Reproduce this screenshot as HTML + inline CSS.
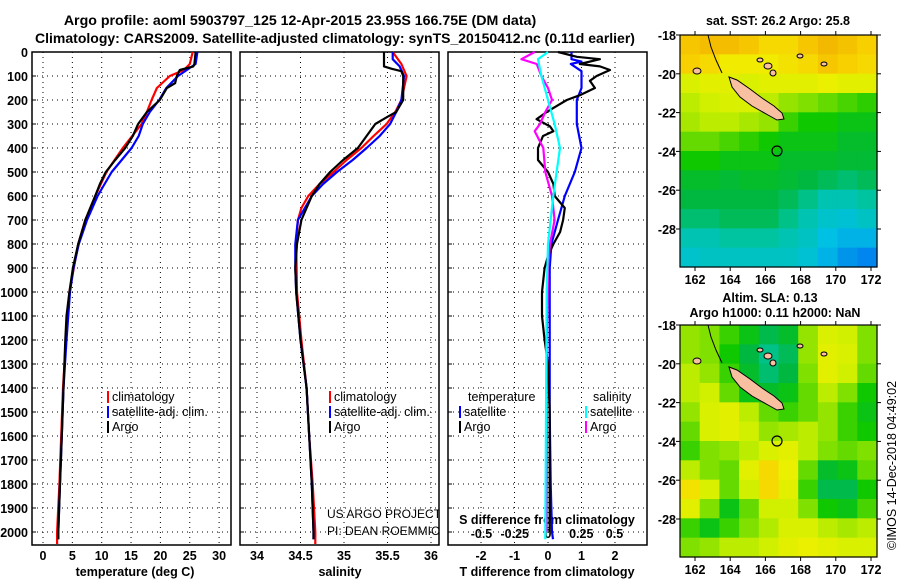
<!DOCTYPE html>
<html><head><meta charset="utf-8">
<style>
html,body{margin:0;padding:0;background:#fff;}
svg{display:block;font-family:"Liberation Sans",sans-serif;}
.b{font-weight:bold;}
</style></head>
<body>
<svg id="fig" width="900" height="580" viewBox="0 0 900 580" xmlns="http://www.w3.org/2000/svg">
<defs><clipPath id="p2clip"><rect x="240" y="52" width="199" height="493"/></clipPath></defs>
<text x="300" y="25" text-anchor="middle" font-size="14.2" class="b">Argo profile: aoml 5903797_125 12-Apr-2015 23.95S 166.75E (DM data)</text>
<text x="335" y="43" text-anchor="middle" font-size="14" class="b">Climatology: CARS2009. Satellite-adjusted climatology: synTS_20150412.nc (0.11d earlier)</text>
<text x="778" y="25" text-anchor="middle" font-size="12.5" class="b">sat. SST: 26.2 Argo: 25.8</text>
<text x="770" y="302" text-anchor="middle" font-size="12.5" class="b">Altim. SLA: 0.13</text>
<text x="775" y="317" text-anchor="middle" font-size="12.5" class="b">Argo h1000: 0.11 h2000: NaN</text>
<text transform="translate(896,550) rotate(-90)" font-size="12.5">©IMOS 14-Dec-2018 04:49:02</text>
<text x="135" y="576" text-anchor="middle" font-size="12.5" class="b">temperature (deg C)</text>
<text x="340" y="576" text-anchor="middle" font-size="12.5" class="b">salinity</text>
<text x="547" y="576" text-anchor="middle" font-size="12.5" class="b">T difference from climatology</text>
<text x="547" y="524" text-anchor="middle" font-size="12.5" class="b">S difference from climatology</text>
<g clip-path="url(#p2clip)">
<text x="327" y="518" font-size="12">US ARGO PROJECT</text>
<text x="327" y="535" font-size="12">PI: DEAN ROEMMICH</text>
</g>
</svg>
<script>
// ---- Profile data ----
const tArgoDepth=[0,50,60,75,100,130,150,200,250,300,350,400,450,500,550,600,700,800,900,1000,1100,1200,1400,1600,1800,2000,2030];
const tArgo=[26.0,25.8,25.6,23.3,22.8,22.5,21.1,19.9,17.7,16.2,15.3,14.0,12.3,10.7,9.7,8.9,7.2,6.0,5.1,4.5,4.0,3.8,3.5,3.2,2.9,2.6,2.6];
const tClimDepth=[0,50,75,100,150,200,250,300,400,500,600,700,800,1000,1200,1400,1600,1800,2000,2050];
const tClim=[25.5,25.0,24.0,21.6,19.4,18.5,17.7,16.8,13.6,10.8,8.9,7.2,6.0,4.5,3.9,3.4,3.1,2.8,2.4,2.4];
const tSatDepth=[0,50,75,100,150,200,250,300,350,400,450,500,550,600,700,800,900,1000,1200,1400,1600,1800,2000,2030];
const tSat=[26.3,26.0,24.5,23.0,21.0,19.8,18.2,17.0,16.3,15.1,13.4,11.7,10.5,9.3,7.5,6.1,5.2,4.6,4.0,3.5,3.2,2.9,2.6,2.6];
const sArgoDepth=[0,60,70,80,100,200,250,270,300,350,400,450,500,550,600,700,800,900,1000,1200,1400,1600,1800,2000,2030];
const sArgo=[35.46,35.46,35.55,35.66,35.68,35.68,35.60,35.50,35.36,35.26,35.16,34.99,34.84,34.72,34.63,34.51,34.46,34.44,34.45,34.5,34.57,34.60,34.63,34.65,34.65];
const sClimDepth=[0,50,100,200,250,300,350,400,450,500,550,600,650,700,800,1000,1200,1400,1600,1800,2000,2050];
const sClim=[35.56,35.66,35.72,35.66,35.59,35.49,35.34,35.20,35.03,34.88,34.72,34.59,34.51,34.47,34.45,34.46,34.51,34.57,34.60,34.64,34.67,34.67];
const sSatDepth=[0,30,60,100,200,250,300,350,400,450,500,550,600,700,800,900,1000,1200,1400,1600,1800,2000,2030];
const sSat=[35.56,35.56,35.64,35.69,35.66,35.60,35.53,35.41,35.26,35.10,34.92,34.76,34.63,34.47,34.44,34.44,34.45,34.5,34.57,34.60,34.63,34.65,34.65];
const dtArgoDepth=[0,20,30,50,60,75,100,120,150,180,200,230,250,280,310,330,350,400,450,500,550,600,650,700,750,800,850,900,1000,1100,1200,1300,1500,1700,2000];
const dtArgo=[0.3,0.86,1.55,0.95,1.55,1.85,1.45,1.25,1.4,0.95,0.56,0.2,-0.04,-0.34,0.06,0.16,-0.15,-0.3,-0.3,0,0.16,0.2,0.5,0.45,0.36,0.16,0,-0.1,-0.18,-0.18,-0.1,0,0.05,0.05,0.05];
const dtSatDepth=[0,30,40,50,80,150,200,300,400,500,600,700,800,900,1000,1500,1800,2000,2030];
const dtSat=[0.7,0.7,1.0,0.68,1.0,1.0,0.86,0.86,1.0,0.8,0.5,0.3,0.1,0.05,0.05,0.05,0.08,0.12,0.15];
const dsArgoDepth=[0,30,50,100,150,200,250,300,330,400,500,600,700,800,900,1200,1600,2000];
const dsArgo=[-0.1,-0.2,-0.085,-0.05,0,0.03,-0.02,-0.06,-0.1,-0.035,-0.02,0.03,0.05,0.015,0,-0.01,-0.01,-0.01];
const dsSatDepth=[0,30,100,200,300,400,500,600,800,1000,1500,2000,2030];
const dsSat=[0,-0.075,-0.05,0,0.05,0.09,0.065,0.04,0,-0.01,-0.015,-0.02,-0.02];
const depthTicks=[0,100,200,300,400,500,600,700,800,900,1000,1100,1200,1300,1400,1500,1600,1700,1800,1900,2000];
const tempTicks=[0,5,10,15,20,25,30];
const salTicks=[34,34.5,35,35.5,36];
const dtTicks=[-2,-1,0,1,2];
const dsTicks=[-0.5,-0.25,0,0.25,0.5];
// ---- Map data (0..1 colour index) ----
const sstGrid=[
[.84,.86,.86,.84,.80,.80,.84,.87,.85,.82],
[.82,.80,.76,.76,.76,.78,.80,.84,.82,.80],
[.70,.72,.72,.70,.72,.72,.72,.74,.72,.72],
[.66,.68,.70,.70,.66,.62,.60,.58,.56,.54],
[.64,.66,.66,.64,.62,.55,.52,.52,.50,.50],
[.58,.58,.56,.54,.52,.50,.50,.50,.48,.48],
[.52,.52,.50,.50,.50,.48,.48,.48,.47,.47],
[.48,.48,.47,.48,.48,.47,.46,.44,.42,.44],
[.46,.46,.46,.46,.46,.44,.40,.36,.36,.38],
[.42,.42,.44,.44,.44,.40,.36,.33,.32,.34],
[.36,.36,.38,.38,.38,.36,.34,.30,.28,.28],
[.33,.34,.34,.34,.34,.34,.32,.28,.24,.22]];
const slaGrid=[
[.62,.60,.55,.50,.45,.48,.62,.70,.68,.60],
[.62,.60,.52,.46,.40,.44,.62,.72,.70,.60],
[.66,.62,.55,.48,.42,.46,.60,.72,.68,.58],
[.66,.68,.58,.50,.48,.50,.58,.66,.60,.52],
[.62,.70,.72,.66,.58,.55,.58,.62,.55,.50],
[.58,.70,.72,.68,.62,.64,.66,.62,.55,.52],
[.55,.60,.62,.66,.70,.72,.66,.60,.58,.60],
[.66,.60,.58,.72,.80,.74,.58,.48,.50,.58],
[.78,.70,.58,.68,.80,.72,.55,.45,.45,.52],
[.72,.60,.50,.58,.68,.68,.60,.52,.50,.56],
[.55,.50,.55,.60,.65,.70,.70,.66,.64,.66],
[.60,.62,.66,.66,.68,.72,.74,.72,.70,.70]];
const lonTicks=[162,164,166,168,170,172];
const latTicks=[-18,-20,-22,-24,-26,-28];

const NS='http://www.w3.org/2000/svg';
const svg=document.getElementById('fig');
function mk(tag,attrs,parent){const e=document.createElementNS(NS,tag);for(const k in attrs)e.setAttribute(k,attrs[k]);(parent||svg).appendChild(e);return e;}
const Y0=52,PB=545;
const yD=d=>Math.min(PB,Y0+d*0.24);
const xT=v=>43+v*5.87;
const xS=v=>257+(v-34)*87;
const xDT=v=>548+v*33.5;
const xDS=v=>548+v*133;
const panels=[{x0:32,x1:231,name:'temperature-panel'},{x0:240,x1:439,name:'salinity-panel'},{x0:448,x1:647,name:'difference-panel'}];
const gridX=[tempTicks.map(xT),salTicks.map(xS),dtTicks.map(xDT)];

panels.forEach((p,i)=>{
  const g=mk('g',{});
  
  
  depthTicks.forEach(d=>{
    const l=mk('line',{x1:p.x0,x2:p.x1,y1:yD(d),y2:yD(d),stroke:'#000','stroke-width':1,'stroke-dasharray':'1,4'},g);
    
    
    const tk=mk('line',{x1:p.x0,x2:p.x0+4,y1:yD(d),y2:yD(d),stroke:'#000'},g);
    
    
  });
  gridX[i].forEach(x=>{
    const l=mk('line',{x1:x,x2:x,y1:Y0,y2:PB,stroke:'#000','stroke-width':1,'stroke-dasharray':'1,4'},g);
    
    
  });
  const r=mk('rect',{x:p.x0,y:Y0,width:p.x1-p.x0,height:PB-Y0,fill:'none',stroke:'#000','stroke-width':1.5},g);
  
  
});
depthTicks.forEach(d=>{
  const t=mk('text',{x:28,y:yD(d)+5,'text-anchor':'end','font-size':12.5,'font-weight':'bold'});
  t.textContent=d;
  
  
});
function xlabels(ticks,fx,y,size){ticks.forEach(v=>{
  const t=mk('text',{x:fx(v),y:y,'text-anchor':'middle','font-size':size,'font-weight':'bold'});
  t.textContent=v;
  
  
});}
xlabels(tempTicks,xT,560,12.5);
xlabels(salTicks,xS,560,12.5);
xlabels(dtTicks,xDT,560,12.5);
xlabels(dsTicks,xDS,538,12.5);

function line(depths,vals,fx,color,name){
  const pts=depths.map((d,i)=>fx(vals[i]).toFixed(1)+','+yD(d).toFixed(1)).join(' ');
  const l=mk('polyline',{points:pts,fill:'none',stroke:color,'stroke-width':2.2,'stroke-linejoin':'round'});
  
  
}
line(tClimDepth,tClim,xT,'#f00','temp-climatology-line');
line(tSatDepth,tSat,xT,'#00f','temp-satellite-line');
line(tArgoDepth,tArgo,xT,'#000','temp-argo-line');
line(sClimDepth,sClim,xS,'#f00','sal-climatology-line');
line(sSatDepth,sSat,xS,'#00f','sal-satellite-line');
line(sArgoDepth,sArgo,xS,'#000','sal-argo-line');
line(dtSatDepth,dtSat,xDT,'#00f','tdiff-satellite-line');
line(dtArgoDepth,dtArgo,xDT,'#000','tdiff-argo-line');
line(dsArgoDepth,dsArgo,xDS,'#f0f','sdiff-argo-line');
line(dsSatDepth,dsSat,xDS,'#0ff','sdiff-satellite-line');

function legendItem(x,y,color,label){
  const g=mk('g',{});
  
  
  mk('rect',{x:x,y:y-10,width:2,height:12,fill:color},g);
  const t=mk('text',{x:x+5,y:y,'font-size':12.5},g);
  t.textContent=label;
}
[[107,'#f00','climatology'],[107,'#00f','satellite-adj. clim.'],[107,'#000','Argo']].forEach((e,i)=>legendItem(e[0],401+i*15,e[1],e[2]));
[[329,'#f00','climatology'],[329,'#00f','satellite-adj. clim.'],[329,'#000','Argo']].forEach((e,i)=>legendItem(e[0],401+i*15,e[1],e[2]));
const lt=mk('text',{x:468,y:401,'font-size':12.5});lt.textContent='temperature';


const ls=mk('text',{x:593,y:401,'font-size':12.5});ls.textContent='salinity';


legendItem(459,416,'#00f','satellite');legendItem(459,431,'#000','Argo');
legendItem(585,416,'#0ff','satellite');legendItem(585,431,'#f0f','Argo');

// ---- Maps ----
const stops=[[.2,[0,120,240]],[.3,[0,192,228]],[.38,[0,196,160]],[.46,[0,184,64]],[.52,[16,200,0]],[.6,[128,224,0]],[.68,[208,240,0]],[.75,[240,240,0]],[.82,[248,208,0]],[.9,[240,170,0]]];
function cmap(v){
  if(v<=stops[0][0])return 'rgb('+stops[0][1]+')';
  for(let i=1;i<stops.length;i++){if(v<=stops[i][0]){const a=stops[i-1],b=stops[i],f=(v-a[0])/(b[0]-a[0]);return 'rgb('+a[1].map((c,k)=>Math.round(c+(b[1][k]-c)*f)).join(',')+')';}}
  return 'rgb('+stops[stops.length-1][1]+')';
}
const MX0=680,MX1=877;
const lonX=lon=>695+(lon-162)*17.6;
function drawMap(top,grid,name){
  const bottom=top+232;
  const g=mk('g',{});
  
  
  const rows=grid.length,cols=grid[0].length,cw=(MX1-MX0)/cols,ch=(bottom-top)/rows;
  grid.forEach((row,r)=>row.forEach((v,c)=>{
    const cell=mk('rect',{x:(MX0+c*cw).toFixed(2),y:(top+r*ch).toFixed(2),width:(cw+0.6).toFixed(2),height:(ch+0.6).toFixed(2),fill:cmap(v)},g);
    
    
  }));
  const coast=mk('polyline',{points:`708,${top} 711,${top+12} 716,${top+25} 722,${top+38}`,fill:'none',stroke:'#000','stroke-width':1},g);
  
  
  const isl=mk('polygon',{points:`729,${top+42} 737,${top+45} 750,${top+54} 762,${top+63} 774,${top+71} 782,${top+78} 784,${top+84} 777,${top+85} 768,${top+80} 752,${top+71} 740,${top+62} 732,${top+52}`,fill:'#f8c0a0',stroke:'#000','stroke-width':1},g);
  
  
  [[768,top+31,4,3],[773,top+38,3,3],[800,top+21,3,2],[824,top+29,3,2],[760,top+25,3,2],[697,top+36,4,3]].forEach(a=>{
    const e=mk('ellipse',{cx:a[0],cy:a[1],rx:a[2],ry:a[3],fill:'#f8c0a0',stroke:'#000','stroke-width':1},g);
    
    
  });
  const circ=mk('circle',{cx:777,cy:top+116,r:5,fill:'none',stroke:'#000','stroke-width':1.2},g);
  
  
  const fr=mk('rect',{x:MX0,y:top,width:MX1-MX0,height:bottom-top,fill:'none',stroke:'#000','stroke-width':1.2},g);
  
  
  lonTicks.forEach(lon=>{
    mk('line',{x1:lonX(lon),x2:lonX(lon),y1:bottom,y2:bottom+4,stroke:'#000'},g);
    mk('line',{x1:lonX(lon),x2:lonX(lon),y1:top,y2:top-4,stroke:'#000'},g);
    const t=mk('text',{x:lonX(lon),y:bottom+17,'text-anchor':'middle','font-size':12.5,'font-weight':'bold'},g);
    t.textContent=lon;
    
    
  });
  latTicks.forEach(lat=>{
    const y=top+(-18-lat)*19.4;
    mk('line',{x1:MX0-4,x2:MX0,y1:y,y2:y,stroke:'#000'},g);
    mk('line',{x1:MX1,x2:MX1+4,y1:y,y2:y,stroke:'#000'},g);
    const t=mk('text',{x:676,y:y+5,'text-anchor':'end','font-size':12.5,'font-weight':'bold'},g);
    t.textContent=lat;
    
    
  });
}
drawMap(35,sstGrid,'sst-map');
drawMap(325,slaGrid,'sla-map');
</script>
</body></html>
